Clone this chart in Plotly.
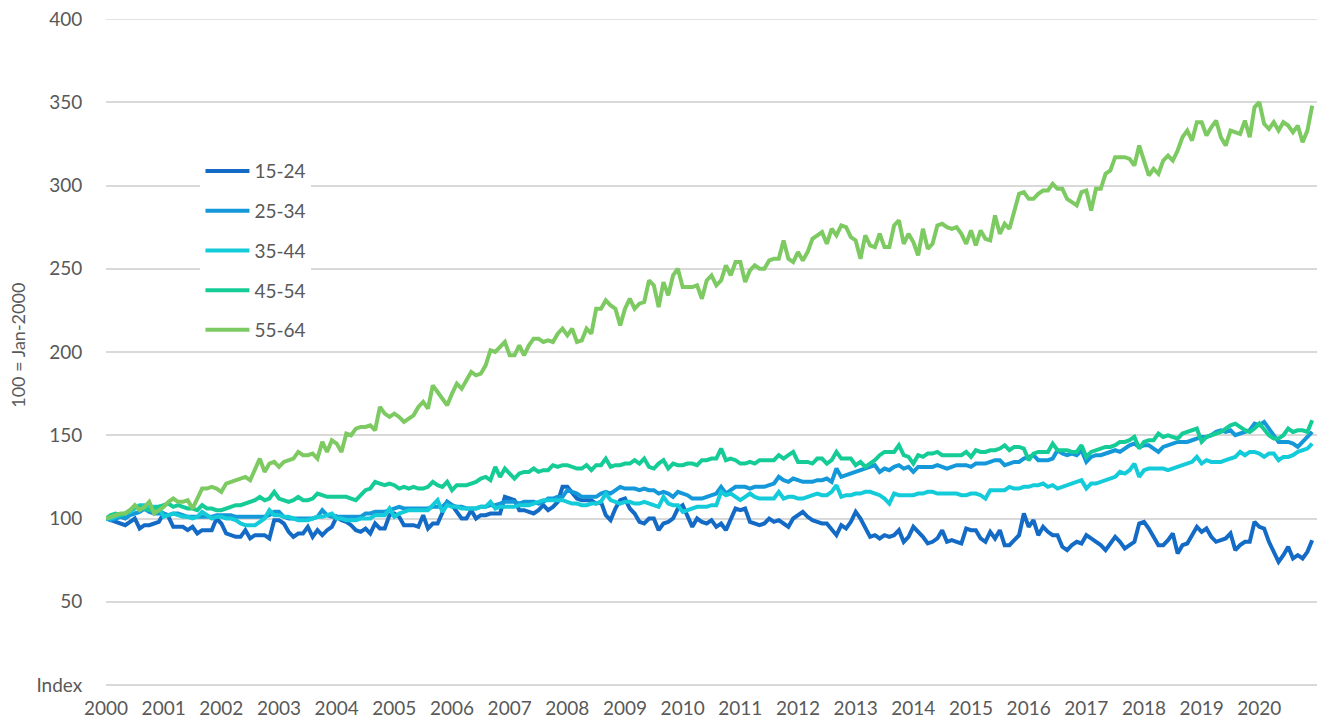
import plotly.graph_objects as go

# Monthly index values, Jan-2000 .. Dec-2020 (100 = Jan-2000), one row per year
age_15_24 = [
    100, 99, 98, 97, 96, 98, 100, 94, 96, 96, 97, 98,
    103, 101, 95, 95, 95, 93, 95, 91, 93, 93, 93, 100,
    97, 91, 90, 89, 89, 93, 88, 90, 90, 90, 88, 99,
    99, 97, 92, 89, 91, 91, 95, 89, 93, 90, 93, 95,
    101, 99, 98, 96, 93, 92, 94, 91, 97, 94, 94, 102,
    103, 101, 96, 96, 96, 95, 102, 94, 97, 97, 104, 110,
    108, 104, 100, 100, 105, 100, 102, 102, 103, 103, 103, 113,
    112, 111, 105, 105, 104, 103, 105, 108, 105, 107, 110, 119,
    119, 115, 112, 111, 111, 111, 109, 110, 102, 99, 106, 111,
    112, 106, 103, 98, 97, 100, 100, 93, 97, 98, 100, 106,
    108, 102, 95, 100, 98, 97, 99, 95, 97, 93, 100, 106,
    105, 106, 98, 97, 96, 97, 100, 98, 99, 97, 95, 100,
    102, 104, 101, 99, 98, 97, 97, 93, 90, 96, 94, 98,
    104, 100, 94, 89, 90, 88, 90, 89, 90, 93, 86, 89,
    95, 92, 89, 85, 86, 88, 93, 86, 87, 86, 85, 94,
    93, 93, 88, 86, 92, 88, 93, 84, 84, 87, 90, 103,
    95, 99, 90, 95, 92, 90, 90, 83, 81, 84, 86, 85,
    90, 88, 86, 84, 81, 85, 89, 86, 82, 84, 86, 97,
    98, 94, 89, 84, 84, 87, 91, 79, 84, 85, 90, 95,
    92, 94, 89, 86, 87, 88, 91, 81, 84, 86, 86, 98,
    95, 94, 86, 80, 74, 78, 83, 76, 78, 76, 80, 87,
]

age_25_34 = [
    100, 99, 100, 101, 100, 102, 103, 104, 106, 104, 103, 103,
    103, 102, 103, 103, 102, 101, 101, 101, 101, 101, 101, 102,
    102, 102, 102, 101, 101, 101, 101, 101, 101, 101, 102, 104,
    104, 101, 100, 100, 100, 100, 100, 100, 101, 105, 102, 101,
    101, 101, 101, 101, 101, 101, 103, 103, 104, 104, 104, 105,
    106, 107, 106, 106, 106, 106, 106, 106, 107, 107, 107, 110,
    108, 107, 107, 106, 106, 106, 107, 107, 108, 108, 109, 110,
    110, 110, 109, 110, 110, 110, 109, 110, 112, 112, 113, 113,
    117, 116, 115, 113, 113, 113, 113, 115, 116, 115, 117, 119,
    118, 118, 118, 117, 118, 117, 117, 115, 116, 115, 113, 116,
    115, 114, 112, 112, 112, 113, 114, 115, 119, 115, 117, 119,
    119, 119, 118, 119, 119, 119, 120, 121, 125, 123, 122, 124,
    123, 122, 122, 122, 123, 123, 124, 122, 130, 125, 126, 127,
    128, 129, 130, 131, 132, 128, 130, 129, 131, 132, 130, 131,
    128, 131, 131, 131, 131, 132, 131, 130, 131, 132, 132, 132,
    131, 133, 133, 133, 134, 135, 135, 132, 133, 134, 134, 136,
    137, 138, 135, 135, 135, 136, 141, 139, 138, 139, 138, 141,
    134, 137, 138, 138, 139, 140, 141, 140, 142, 144, 145, 143,
    144, 144, 142, 140, 143, 144, 145, 146, 146, 146, 147, 148,
    149, 149, 150, 152, 153, 152, 153, 150, 151, 152, 153, 157,
    156, 158, 154, 149, 146, 146, 146, 145, 143, 146, 149, 152,
]

age_35_44 = [
    100, 100, 101, 102, 103, 104, 106, 108, 108, 107, 107, 107,
    101, 102, 103, 102, 101, 101, 100, 101, 104, 102, 100, 101,
    101, 100, 100, 99, 97, 96, 96, 96, 98, 100, 105, 102,
    102, 101, 101, 100, 99, 99, 99, 100, 101, 101, 102, 103,
    100, 100, 99, 99, 99, 100, 100, 100, 102, 102, 102, 106,
    101, 103, 104, 105, 105, 105, 105, 105, 108, 111, 104, 108,
    107, 107, 106, 106, 106, 106, 107, 107, 110, 106, 107, 107,
    107, 107, 108, 108, 108, 109, 110, 111, 111, 111, 111, 111,
    110, 109, 109, 108, 108, 109, 109, 110, 115, 111, 110, 109,
    110, 110, 109, 109, 110, 109, 108, 107, 113, 109, 108, 108,
    104, 105, 106, 107, 107, 107, 108, 108, 116, 114, 115, 113,
    111, 113, 115, 113, 112, 112, 112, 112, 116, 112, 113, 113,
    112, 112, 113, 114, 115, 114, 114, 116, 120, 113, 114, 114,
    115, 115, 116, 116, 115, 114, 112, 109, 115, 114, 114, 114,
    114, 115, 115, 116, 116, 115, 115, 115, 115, 115, 114, 114,
    115, 115, 114, 112, 117, 117, 117, 117, 119, 118, 118, 119,
    119, 120, 120, 121, 119, 120, 118, 119, 120, 121, 122, 123,
    118, 121, 121, 122, 123, 124, 125, 128, 127, 129, 133, 125,
    129, 130, 130, 130, 130, 129, 130, 131, 132, 133, 134, 137,
    133, 135, 134, 134, 134, 135, 136, 137, 140, 138, 140, 140,
    139, 137, 139, 139, 135, 137, 137, 138, 140, 141, 142, 145,
]

age_45_54 = [
    100, 102, 103, 102, 103, 105, 107, 107, 106, 105, 106, 107,
    108, 109, 107, 108, 107, 106, 106, 105, 108, 106, 106, 105,
    105, 106, 107, 108, 108, 109, 110, 111, 113, 111, 112, 116,
    112, 111, 110, 111, 113, 111, 111, 112, 115, 114, 113, 113,
    113, 113, 113, 112, 111, 114, 117, 118, 122, 121, 120, 121,
    120, 118, 119, 118, 119, 118, 118, 119, 122, 120, 119, 122,
    117, 120, 120, 120, 121, 122, 124, 125, 123, 131, 125, 130,
    127, 124, 127, 128, 128, 130, 128, 129, 129, 132, 131, 132,
    132, 131, 130, 130, 132, 129, 132, 132, 136, 131, 132, 132,
    133, 133, 135, 133, 136, 131, 130, 133, 135, 130, 133, 132,
    132, 133, 133, 132, 135, 135, 136, 136, 142, 135, 136, 135,
    133, 133, 134, 133, 135, 135, 135, 135, 138, 136, 138, 140,
    134, 134, 134, 133, 136, 136, 133, 135, 140, 136, 136, 136,
    132, 134, 131, 133, 135, 138, 140, 140, 140, 144, 138, 137,
    133, 138, 137, 139, 139, 140, 138, 138, 138, 138, 138, 140,
    137, 141, 140, 140, 141, 141, 142, 144, 141, 143, 143, 142,
    135, 139, 140, 140, 140, 145, 141, 141, 141, 140, 140, 144,
    137, 140, 141, 142, 143, 143, 144, 146, 146, 147, 149, 142,
    146, 147, 147, 151, 149, 150, 149, 148, 151, 152, 153, 154,
    146, 149, 150, 151, 152, 154, 156, 157, 155, 153, 152, 154,
    157, 153, 150, 148, 148, 150, 154, 152, 153, 153, 152, 159,
]

age_55_64 = [
    100, 101, 102, 103, 103, 105, 108, 105, 107, 110, 103, 105,
    107, 110, 112, 110, 110, 111, 106, 112, 118, 118, 119, 118,
    116, 121, 122, 123, 124, 125, 123, 130, 136, 128, 133, 134,
    131, 134, 135, 136, 140, 138, 138, 139, 136, 146, 140, 147,
    145, 140, 151, 150, 154, 155, 155, 156, 153, 167, 163, 161,
    163, 161, 158, 160, 162, 167, 170, 166, 180, 176, 172, 168,
    175, 181, 178, 183, 188, 186, 187, 192, 201, 200, 203, 206,
    198, 198, 204, 198, 204, 208, 208, 206, 207, 206, 211, 214,
    210, 214, 206, 207, 214, 211, 226, 226, 231, 228, 226, 216,
    226, 232, 226, 229, 230, 243, 240, 227, 242, 234, 246, 250,
    239, 239, 239, 240, 232, 243, 246, 240, 243, 252, 246, 254,
    254, 242, 249, 252, 250, 250, 255, 256, 256, 267, 256, 254,
    260, 255, 260, 268, 270, 272, 265, 274, 270, 276, 275, 269,
    267, 256, 270, 264, 263, 271, 263, 263, 276, 279, 265, 271,
    266, 258, 274, 262, 265, 276, 277, 275, 274, 275, 271, 265,
    273, 264, 273, 268, 267, 282, 271, 277, 274, 285, 295, 296,
    292, 292, 295, 297, 297, 301, 298, 298, 292, 290, 288, 296,
    297, 285, 298, 298, 307, 309, 317, 317, 317, 316, 312, 324,
    315, 306, 310, 307, 315, 318, 315, 321, 329, 333, 327, 338,
    338, 330, 335, 339, 329, 324, 333, 332, 331, 339, 329, 347,
    350, 337, 334, 338, 333, 338, 336, 332, 336, 326, 333, 348,
]

series_names = ["15-24", "25-34", "35-44", "45-54", "55-64"]
series_values = [age_15_24, age_25_34, age_35_44, age_45_54, age_55_64]
series_colors = ["#136BC6", "#1598DA", "#14CBDA", "#15CC96", "#7DCA62"]

start_year = 2000
years = list(range(2000, 2021))
y_tick_vals = [0, 50, 100, 150, 200, 250, 300, 350, 400]
y_tick_text = ["Index", "50", "100", "150", "200", "250", "300", "350", "400"]
y_max = y_tick_vals[-1]

FONT = "Lato, 'Open Sans', Arial, sans-serif"
GREY = "#595959"
GRID = "#D9D9D9"
FS = 19

fig = go.Figure()
for name, vals, col in zip(series_names, series_values, series_colors):
    x = [start_year + i / 12 for i in range(len(vals))]
    fig.add_trace(go.Scatter(
        x=x, y=vals, mode="lines", name=name, legendgroup=name,
        line=dict(color=col, width=4, shape="linear"),
        hoverinfo="x+y+name",
    ))

# The page body adds an 8px offset, so margins are set relative to that.
fig.update_layout(
    width=1325, height=722,
    margin=dict(l=98, r=16, t=11, b=45),
    paper_bgcolor="white", plot_bgcolor="white",
    font=dict(family=FONT, size=FS, color=GREY),
    showlegend=True,
    legend=dict(
        x=0.078, y=0.80, xanchor="left", yanchor="top",
        bgcolor="white", borderwidth=0,
        font=dict(family=FONT, size=FS, color=GREY),
        tracegroupgap=12, itemwidth=44,
    ),
    xaxis=dict(
        range=[2000, 2021], tickmode="array", tickvals=years,
        ticktext=[str(y) for y in years],
        showgrid=False, zeroline=False, showline=False,
        ticks="outside", ticklen=6, tickcolor="rgba(0,0,0,0)",
        tickfont=dict(family=FONT, size=FS, color=GREY),
        automargin=False,
    ),
    yaxis=dict(
        range=[0, y_max], tickmode="array", tickvals=y_tick_vals, ticktext=y_tick_text,
        showgrid=True, gridcolor=GRID, gridwidth=1.5,
        zeroline=True, zerolinecolor=GRID, zerolinewidth=1.5,
        showline=False,
        ticks="outside", ticklen=19, tickcolor="rgba(0,0,0,0)",
        tickfont=dict(family=FONT, size=FS, color=GREY),
        ticklabeloverflow="allow",
        automargin=False,
    ),
    shapes=[dict(
        type="line", xref="paper", x0=0, x1=1, yref="y", y0=y_max, y1=y_max,
        line=dict(color=GRID, width=1.5), layer="below",
    )],
    annotations=[dict(
        text="100 = Jan-2000", textangle=-90,
        xref="paper", yref="paper", x=-0.0723, y=0.51,
        xanchor="center", yanchor="middle", showarrow=False,
        font=dict(family=FONT, size=18, color=GREY),
    )],
)

fig.write_html("out.html")
